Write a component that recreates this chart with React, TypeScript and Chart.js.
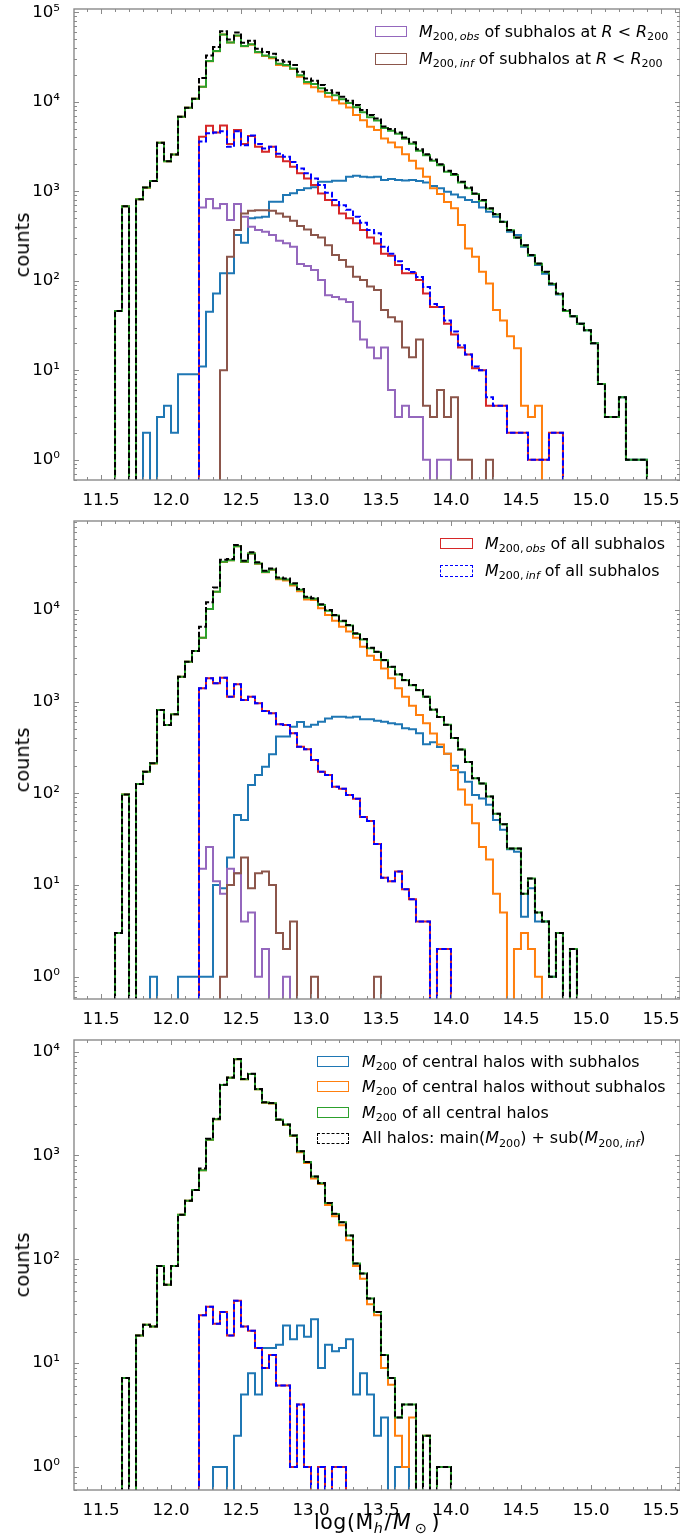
import React, { useEffect, useRef } from "react";
import { Chart, registerables } from "chart.js";

Chart.register(...registerables);

const FONT = "'DejaVu Sans', 'Noto Sans', sans-serif";
const AXIS_COLOR = "#8a8a8a";

// histogram binning (bin edges: BIN_START + k * BIN_WIDTH)
const BIN_START = 11.6;
const BIN_WIDTH = 0.05;
const ZERO_FLOOR = 1e-3;

const X_MIN = 11.307;
const X_MAX = 15.636;
const X_TICKS = [11.5, 12.0, 12.5, 13.0, 13.5, 14.0, 14.5, 15.0, 15.5];

// ---------------- Panel 1 ----------------
const p1AllStart = 0;
const p1All = [46, 680, 0, 812, 1100, 1300, 3480, 2170, 2580, 6800, 8570, 10800, 18500, 33000, 41000, 61600, 49800, 59600, 45600, 48000, 39100, 36000, 34500, 29200, 28000, 25700, 21600, 18200, 17200, 15400, 13500, 12600, 11400, 10300, 9200, 8100, 7100, 6500, 5300, 4950, 4550, 4000, 3520, 2940, 2600, 2270, 2010, 1700, 1560, 1280, 1100, 946, 797, 644, 556, 456, 368, 305, 250, 194, 156, 126, 93, 72, 47, 40, 33, 28, 20, 7, 3, 3, 5, 1, 1, 1];
const p1CentralStart = 0;
const p1Central = [46, 680, 0, 812, 1100, 1300, 3480, 2170, 2580, 6800, 8570, 10800, 14700, 28500, 36900, 56600, 46000, 55000, 42000, 44000, 36000, 33000, 31500, 26700, 25700, 23600, 19800, 16600, 15800, 14200, 12500, 11800, 10700, 9700, 8700, 7650, 6730, 6160, 5100, 4760, 4390, 3860, 3400, 2840, 2520, 2200, 1950, 1650, 1520, 1250, 1080, 930, 785, 638, 551, 452, 366, 303, 248, 193, 155, 125, 92, 71, 46, 40, 33, 28, 20, 7, 3, 3, 5, 1, 1, 1];
const p1NoSubStart = 0;
const p1NoSub = [46, 680, 0, 812, 1098, 1300, 3477, 2166, 2578, 6790, 8560, 10790, 14690, 28450, 36830, 56480, 45880, 54680, 41730, 43500, 35500, 32500, 30700, 25700, 25300, 23200, 19000, 16000, 14500, 13000, 11400, 10400, 9600, 8650, 7100, 6200, 5260, 4830, 3900, 3500, 3100, 2600, 2200, 1800, 1450, 1080, 930, 760, 644, 420, 230, 185, 126, 93, 47, 36, 24, 17.6, 4, 3, 4];
const p1WithSubStart = 4;
const p1WithSub = [2, 0, 3, 4, 2, 9, 9, 9, 11, 45, 72, 121, 121, 325, 266, 498, 510, 519, 764, 764, 907, 950, 1030, 1080, 1110, 1277, 1280, 1310, 1310, 1450, 1490, 1450, 1430, 1450, 1333, 1370, 1333, 1320, 1333, 1300, 1250, 1143, 1080, 986, 920, 860, 797, 760, 660, 590, 519, 456, 352, 325, 240, 190, 150, 120, 90, 70, 46, 40, 33, 28, 20, 7, 3, 3, 5, 1, 1, 1];
const p1SubObsStart = 12;
const p1SubObs = [4060, 5400, 4550, 5450, 3370, 4830, 3370, 4140, 3140, 2760, 3140, 2430, 2170, 1880, 1585, 1393, 1172, 946, 797, 700, 566, 498, 438, 368, 305, 260, 200, 190, 150, 121, 121, 102, 72, 51, 51, 33, 25, 18, 15, 10.5, 10, 4, 4, 4, 2, 2, 2, 1, 1, 1, 2, 2];
const p1SubInfStart = 12;
const p1SubInf = [3600, 4450, 4550, 4700, 3140, 4700, 3270, 4200, 3370, 3000, 3140, 2620, 2430, 2120, 1800, 1585, 1393, 1172, 960, 797, 700, 620, 519, 445, 368, 339, 240, 200, 165, 135, 125, 110, 85, 55, 51, 36, 27, 19, 15, 11, 10, 5, 4, 4, 2, 2, 2, 1, 1, 1, 2, 2];
const p1ObsR200Start = 12;
const p1ObsR200 = [660, 818, 644, 719, 476, 719, 519, 401, 368, 352, 325, 280, 262, 240, 154, 146, 132, 102, 69, 66, 62, 58, 35, 22, 18, 13.6, 18, 6, 3, 4, 3, 3, 1, 0, 1, 1];
const p1InfR200Start = 15;
const p1InfR200 = [10, 185, 368, 566, 606, 612, 612, 606, 566, 519, 468, 408, 375, 325, 305, 250, 194, 170, 143, 111, 102, 86, 79, 47, 39, 35, 18, 14, 22, 4, 3, 6, 3, 5, 1, 1, 0, 0, 1];

// ---------------- Panel 2 ----------------
const p2AllStart = 0;
const p2All = [3, 97, 0, 126, 172, 212, 811, 556, 727, 1870, 2720, 3560, 6560, 12100, 17500, 35200, 35800, 50900, 34400, 42400, 33000, 26700, 28300, 22600, 22000, 19500, 16900, 13900, 13400, 11500, 9970, 8800, 7600, 6850, 5550, 4800, 3870, 3500, 2840, 2400, 1990, 1720, 1517, 1337, 1130, 820, 680, 560, 400, 300, 220, 146, 128, 92, 60, 46, 25, 25, 8, 11.8, 5, 4, 1, 3, 0, 2];
const p2CentralStart = 0;
const p2Central = [3, 97, 0, 126, 172, 212, 811, 556, 727, 1870, 2720, 3560, 4980, 10200, 15800, 33400, 34700, 49400, 33400, 41300, 32000, 25900, 27600, 22000, 21400, 19000, 16600, 13600, 13200, 11300, 9800, 8680, 7500, 6750, 5460, 4750, 3820, 3470, 2830, 2390, 1980, 1710, 1510, 1330, 1126, 816, 678, 558, 400, 300, 220, 146, 128, 92, 60, 46, 25, 25, 8, 11.8, 5, 4, 1, 3, 0, 2];
const p2NoSubStart = 0;
const p2NoSub = [3, 97, 0, 126, 172, 211, 811, 556, 727, 1869, 2719, 3559, 4979, 10199, 15790, 33390, 34680, 49340, 33350, 41180, 31840, 25700, 27330, 21590, 20880, 18470, 16000, 13000, 12800, 10400, 8800, 7600, 6560, 5800, 4980, 3970, 3170, 2840, 2300, 1795, 1396, 1130, 902, 714, 580, 450, 340, 270, 180, 110, 75, 47, 26, 19, 8, 5, 0, 2, 3, 2, 1];
const p2WithSubStart = 5;
const p2WithSub = [1, 0, 0, 0, 1, 1, 1, 1, 1, 10, 9.2, 20, 58, 51, 123, 158, 195, 266, 415, 415, 533, 600, 533, 560, 604, 656, 685, 685, 670, 685, 640, 640, 620, 604, 580, 565, 512, 498, 451, 342, 360, 320, 270, 200, 170, 134, 96, 88, 75, 51, 40, 24.5, 23, 4.5, 9.2, 4, 4, 1, 3, 0, 2];
const p2SubObsStart = 12;
const p2SubObs = [1396, 1795, 1585, 1823, 1130, 1545, 1040, 1130, 958, 789, 745, 565, 556, 451, 322, 302, 231, 172, 158, 118, 112, 96, 87, 55, 50, 28, 12, 11, 14, 9, 7, 4, 4, 0, 2, 2];
const p2SubInfStart = 12;
const p2SubInf = [1396, 1795, 1585, 1823, 1130, 1545, 1040, 1130, 958, 789, 745, 565, 556, 451, 322, 302, 231, 172, 158, 118, 112, 96, 87, 55, 50, 28, 12, 11, 14, 9, 7, 4, 4, 0, 2, 2];
const p2ObsR200Start = 12;
const p2ObsR200 = [15, 26, 11, 8, 15, 13.4, 4, 5, 1, 2, 0, 0, 1];
const p2InfR200Start = 15;
const p2InfR200 = [1, 10, 13.4, 20, 9.2, 13.4, 14, 10, 3, 2, 4, 0, 0, 1, 0, 0, 0, 0, 0, 0, 0, 0, 1];

// ---------------- Panel 3 ----------------
const p3AllStart = 0;
const p3All = [0, 7.2, 0, 18.5, 23.4, 22.5, 86, 57, 86, 268, 367, 465, 749, 1452, 2255, 4800, 5640, 8510, 5440, 6120, 4370, 3250, 3200, 2220, 1990, 1560, 1100, 867, 628, 542, 349, 274, 228, 170, 91, 73, 42, 31, 12, 7.2, 3, 4, 4, 0, 2, 0, 1, 1];
const p3CentralStart = 0;
const p3Central = [0, 7.2, 0, 18.5, 23.4, 22.5, 86, 57, 86, 268, 367, 465, 720, 1417, 2231, 4769, 5621, 8470, 5417, 6100, 4356, 3241, 3188, 2214, 1984, 1559, 1096, 866, 628, 541, 349, 273, 227, 170, 91, 73, 42, 31, 12, 7.2, 3, 4, 4, 0, 2, 0, 1, 1];
const p3NoSubStart = 0;
const p3NoSub = [0, 7.2, 0, 18.5, 23.4, 22.5, 86, 57, 86, 268, 367, 465, 720, 1417, 2230, 4768, 5621, 8468, 5412, 6092, 4351, 3227, 3174, 2199, 1961, 1542, 1073, 848, 601, 532, 334, 260, 213, 153, 86, 65, 37, 29, 9, 6.2, 2, 1, 3, 0, 2, 0, 1, 1];
const p3WithSubStart = 14;
const p3WithSub = [1, 1, 0, 2, 5, 8, 5, 14, 14, 15, 23, 17, 23, 18, 26.5, 9, 15, 13, 14, 17, 5, 8, 5, 2, 3, 0, 1, 1];
const p3SubObsStart = 12;
const p3SubObs = [29, 35, 24, 31, 18.5, 40, 22.5, 20.5, 14, 9, 12, 6.1, 6.1, 1, 4, 1, 0, 1, 0, 1, 1];
const p3SubInfStart = 12;
const p3SubInf = [29, 35, 24, 31, 18.5, 40, 22.5, 20.5, 14, 9, 12, 6.1, 6.1, 1, 4, 1, 0, 1, 0, 1, 1];

const COLORS = {
  withSub: "#1f77b4",
  noSub: "#ff7f0e",
  central: "#2ca02c",
  subObs: "#d62728",
  subInf: "#0000ff",
  all: "#000000",
  obsR200: "#9467bd",
  infR200: "#8c564b",
};

const DASH = [5.5, 2.4];

type Series = { start: number; counts: number[]; color: string; dashed?: boolean };

function stepPoints(start: number, counts: number[]) {
  const edge = (k: number) => BIN_START + k * BIN_WIDTH;
  const pts: { x: number; y: number }[] = [];
  pts.push({ x: edge(start), y: ZERO_FLOOR });
  counts.forEach((c, i) => pts.push({ x: edge(start + i), y: c > 0 ? c : ZERO_FLOOR }));
  pts.push({ x: edge(start + counts.length), y: ZERO_FLOOR });
  return pts;
}

// listed top-most first (Chart.js draws dataset 0 last)
const PANEL1_SERIES: Series[] = [
  { start: p1AllStart, counts: p1All, color: COLORS.all, dashed: true },
  { start: p1SubInfStart, counts: p1SubInf, color: COLORS.subInf, dashed: true },
  { start: p1SubObsStart, counts: p1SubObs, color: COLORS.subObs },
  { start: p1InfR200Start, counts: p1InfR200, color: COLORS.infR200 },
  { start: p1ObsR200Start, counts: p1ObsR200, color: COLORS.obsR200 },
  { start: p1CentralStart, counts: p1Central, color: COLORS.central },
  { start: p1NoSubStart, counts: p1NoSub, color: COLORS.noSub },
  { start: p1WithSubStart, counts: p1WithSub, color: COLORS.withSub },
];
const PANEL2_SERIES: Series[] = [
  { start: p2AllStart, counts: p2All, color: COLORS.all, dashed: true },
  { start: p2SubInfStart, counts: p2SubInf, color: COLORS.subInf, dashed: true },
  { start: p2SubObsStart, counts: p2SubObs, color: COLORS.subObs },
  { start: p2InfR200Start, counts: p2InfR200, color: COLORS.infR200 },
  { start: p2ObsR200Start, counts: p2ObsR200, color: COLORS.obsR200 },
  { start: p2CentralStart, counts: p2Central, color: COLORS.central },
  { start: p2NoSubStart, counts: p2NoSub, color: COLORS.noSub },
  { start: p2WithSubStart, counts: p2WithSub, color: COLORS.withSub },
];
const PANEL3_SERIES: Series[] = [
  { start: p3AllStart, counts: p3All, color: COLORS.all, dashed: true },
  { start: p3SubInfStart, counts: p3SubInf, color: COLORS.subInf, dashed: true },
  { start: p3SubObsStart, counts: p3SubObs, color: COLORS.subObs },
  { start: p3CentralStart, counts: p3Central, color: COLORS.central },
  { start: p3NoSubStart, counts: p3NoSub, color: COLORS.noSub },
  { start: p3WithSubStart, counts: p3WithSub, color: COLORS.withSub },
];

type PanelCfg = { top: number; bottom: number; yMin: number; yMax: number; series: Series[] };

const PANELS: PanelCfg[] = [
  { top: 9, bottom: 480, yMin: 0.593, yMax: 108900, series: PANEL1_SERIES },
  { top: 521, bottom: 999, yMin: 0.571, yMax: 93200, series: PANEL2_SERIES },
  { top: 1040, bottom: 1490, yMin: 0.64, yMax: 12950, series: PANEL3_SERIES },
];

const PAD_TOP = 14;
const X_AXIS_H = 32;
const Y_AXIS_W = 74;
const SUP: Record<string, string> = { "0": "⁰", "1": "¹", "2": "²", "3": "³", "4": "⁴", "5": "⁵", "6": "⁶", "7": "⁷", "8": "⁸", "9": "⁹", "-": "⁻" };

const frameTicks = {
  id: "frameTicks",
  afterDatasetsDraw(chart: any) {
    const { ctx, chartArea } = chart;
    const { left, right, top, bottom } = chartArea;
    const xs = chart.scales.x;
    const ys = chart.scales.y;
    ctx.save();
    ctx.strokeStyle = AXIS_COLOR;
    ctx.lineWidth = 1;
    ctx.beginPath();
    for (let k = Math.ceil(xs.min * 10); k <= Math.floor(xs.max * 10); k++) {
      const px = Math.round(xs.getPixelForValue(k / 10)) + 0.5;
      const len = k % 5 === 0 ? 5 : 3;
      ctx.moveTo(px, bottom);
      ctx.lineTo(px, bottom - len);
      ctx.moveTo(px, top);
      ctx.lineTo(px, top + len);
    }
    const d0 = Math.floor(Math.log10(ys.min));
    const d1 = Math.ceil(Math.log10(ys.max));
    for (let d = d0; d <= d1; d++) {
      for (let m = 1; m <= 9; m++) {
        const v = m * Math.pow(10, d);
        if (v < ys.min || v > ys.max) continue;
        const py = Math.round(ys.getPixelForValue(v)) + 0.5;
        const len = m === 1 ? 5 : 3;
        ctx.moveTo(left, py);
        ctx.lineTo(left + len, py);
        ctx.moveTo(right, py);
        ctx.lineTo(right - len, py);
      }
    }
    ctx.stroke();
    ctx.lineWidth = 1.4;
    ctx.strokeRect(left, top, right - left, bottom - top);
    ctx.restore();
  },
};

function Panel({ cfg }: { cfg: PanelCfg }) {
  const ref = useRef<HTMLCanvasElement | null>(null);
  const height = cfg.bottom - cfg.top + PAD_TOP + X_AXIS_H;
  useEffect(() => {
    if (!ref.current) return;
    const decades: number[] = [];
    for (let d = Math.ceil(Math.log10(cfg.yMin)); d <= Math.floor(Math.log10(cfg.yMax)); d++) decades.push(Math.pow(10, d));
    const chart = new Chart(ref.current, {
      type: "line",
      data: {
        datasets: cfg.series.map((s) => ({
          data: stepPoints(s.start, s.counts),
          borderColor: s.color,
          backgroundColor: s.color,
          borderWidth: 2,
          borderDash: s.dashed ? DASH : [],
          stepped: "before",
          pointRadius: 0,
          fill: false,
          tension: 0,
          clip: 0,
          borderJoinStyle: "miter",
          borderCapStyle: "butt",
        })),
      },
      options: {
        responsive: false,
        animation: false,
        devicePixelRatio: 1,
        events: [],
        layout: { padding: { top: PAD_TOP, left: 0, right: 0, bottom: 0 } },
        plugins: { legend: { display: false }, tooltip: { enabled: false } },
        scales: {
          x: {
            type: "linear",
            min: X_MIN,
            max: X_MAX,
            grid: { display: false },
            border: { display: false },
            ticks: {
              autoSkip: false,
              maxRotation: 0,
              padding: 2.5,
              color: "#000",
              font: { family: FONT, size: 16.67 },
              callback: (v: any) => Number(v).toFixed(1),
            },
            afterBuildTicks: (s: any) => {
              s.ticks = X_TICKS.map((v) => ({ value: v }));
            },
            afterFit: (s: any) => {
              s.height = X_AXIS_H;
              s.paddingLeft = 0;
              s.paddingRight = 0;
            },
          },
          y: {
            type: "logarithmic",
            min: cfg.yMin,
            max: cfg.yMax,
            grid: { display: false },
            border: { display: false },
            ticks: {
              autoSkip: false,
              padding: 6,
              color: "#000",
              font: { family: FONT, size: 16.67 },
              callback: (v: any) => {
                const e = String(Math.round(Math.log10(Number(v))));
                return "10" + e.split("").map((c) => SUP[c] || c).join("");
              },
            },
            afterBuildTicks: (s: any) => {
              s.ticks = decades.map((v) => ({ value: v }));
            },
            afterFit: (s: any) => {
              s.width = Y_AXIS_W;
              s.paddingTop = 0;
              s.paddingBottom = 0;
            },
          },
        },
      } as any,
      plugins: [frameTicks],
    });
    return () => chart.destroy();
  }, []);
  return (
    <canvas
      ref={ref}
      width={680}
      height={height}
      style={{ position: "absolute", left: 0, top: cfg.top - PAD_TOP, width: 680, height }}
    />
  );
}

const Sub = ({ children }: { children: React.ReactNode }) => (
  <span style={{ fontSize: "0.7em", position: "relative", top: "0.3em" }}>{children}</span>
);
const It = ({ children }: { children: React.ReactNode }) => <span style={{ fontStyle: "italic" }}>{children}</span>;

const M200 = () => (<><It>M</It><Sub>200</Sub></>);
const M200obs = () => (<><It>M</It><Sub>200,{"\u2009"}<It>obs</It></Sub></>);
const M200inf = () => (<><It>M</It><Sub>200,{"\u2009"}<It>inf</It></Sub></>);
const RltR200 = () => (<><It>R</It> &lt; <It>R</It><Sub>200</Sub></>);

type LegendRow = { cy: number; color: string; dashed?: boolean; label: React.ReactNode };

function Legend({ hx, tx, hw, rows }: { hx: number; tx: number; hw: number; rows: LegendRow[] }) {
  return (
    <>
      {rows.map((r, i) => (
        <React.Fragment key={i}>
          <div
            style={{
              position: "absolute",
              left: hx,
              top: r.cy - 5.8,
              width: hw,
              height: 11.6,
              boxSizing: "border-box",
              border: `1.8px ${r.dashed ? "dashed" : "solid"} ${r.color}`,
            }}
          />
          <div
            style={{
              position: "absolute",
              left: tx,
              top: r.cy - 11,
              height: 22,
              lineHeight: "22px",
              fontFamily: FONT,
              fontSize: 15.9,
              whiteSpace: "nowrap",
              color: "#000",
            }}
          >
            {r.label}
          </div>
        </React.Fragment>
      ))}
    </>
  );
}

function YLabel({ cy }: { cy: number }) {
  return (
    <div
      style={{
        position: "absolute",
        left: 23,
        top: cy,
        transform: "translate(-50%, -50%) rotate(-90deg)",
        fontFamily: FONT,
        fontSize: 19.4,
        whiteSpace: "nowrap",
        lineHeight: "24px",
      }}
    >
      counts
    </div>
  );
}

export default function App() {
  return (
    <div style={{ position: "absolute", left: 0, top: 0, width: 680, height: 1539, overflow: "hidden", background: "#fff" }}>
      {PANELS.map((p, i) => (
        <Panel key={i} cfg={p} />
      ))}
      {PANELS.map((p, i) => (
        <YLabel key={i} cy={(p.top + p.bottom) / 2} />
      ))}
      <Legend
        hx={375}
        tx={419}
        hw={32}
        rows={[
          { cy: 31.7, color: COLORS.obsR200, label: (<><M200obs /> of subhalos at <RltR200 /></>) },
          { cy: 58.8, color: COLORS.infR200, label: (<><M200inf /> of subhalos at <RltR200 /></>) },
        ]}
      />
      <Legend
        hx={440}
        tx={485}
        hw={33}
        rows={[
          { cy: 543.5, color: COLORS.subObs, label: (<><M200obs /> of all subhalos</>) },
          { cy: 570.8, color: COLORS.subInf, dashed: true, label: (<><M200inf /> of all subhalos</>) },
        ]}
      />
      <Legend
        hx={317}
        tx={362}
        hw={32}
        rows={[
          { cy: 1061.7, color: COLORS.withSub, label: (<><M200 /> of central halos with subhalos</>) },
          { cy: 1086.5, color: COLORS.noSub, label: (<><M200 /> of central halos without subhalos</>) },
          { cy: 1112.5, color: COLORS.central, label: (<><M200 /> of all central halos</>) },
          { cy: 1138.3, color: COLORS.all, dashed: true, label: (<>All halos: main(<M200 />) + sub(<M200inf />)</>) },
        ]}
      />
      <div
        style={{
          position: "absolute",
          left: 377,
          top: 1523,
          transform: "translate(-50%, -50%)",
          fontFamily: FONT,
          fontSize: 20.5,
          whiteSpace: "nowrap",
          lineHeight: "24px",
          letterSpacing: "0.6px",
        }}
      >
        log(M<Sub><It>h</It></Sub><span style={{ margin: "0 1px" }}>/</span><It>M</It><Sub>{"\u2009"}⊙</Sub><span style={{ marginLeft: 4 }}>)</span>
      </div>
    </div>
  );
}
